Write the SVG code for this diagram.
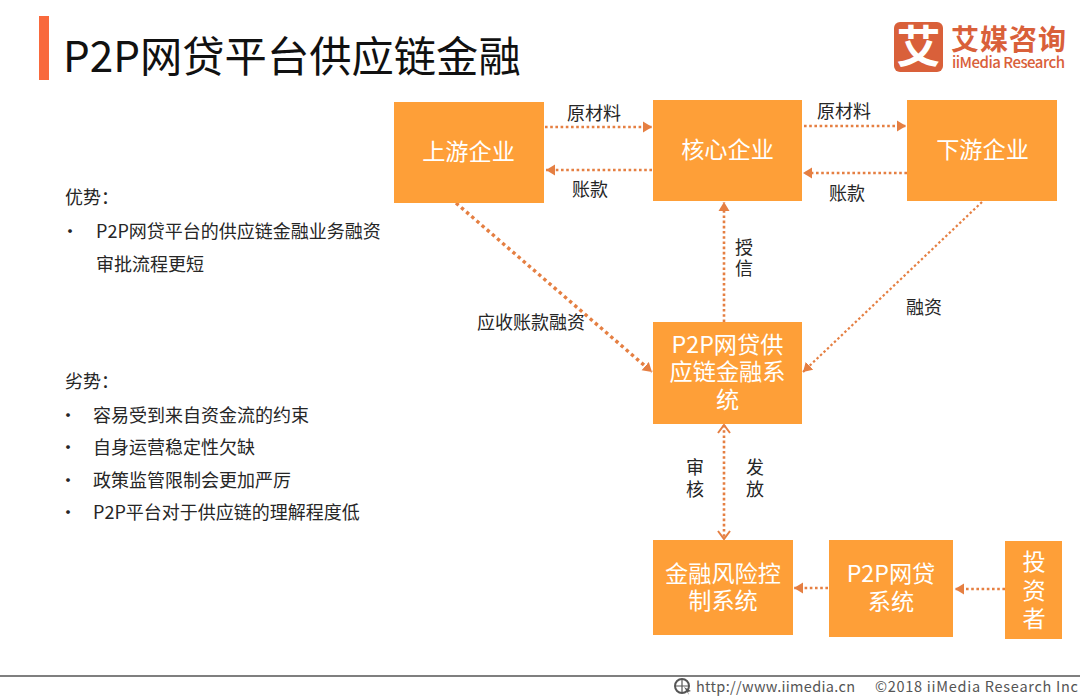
<svg xmlns="http://www.w3.org/2000/svg" width="1080" height="700" viewBox="0 0 1080 700">
<style>
text{font-family:"Noto Sans CJK SC","Noto Sans",sans-serif}
.box{fill:#fe9f38}
.nt{fill:#fff;font-size:23.2px;text-anchor:middle}
.lb{fill:#262626;font-size:18px;text-anchor:middle}
.tx{fill:#262626;font-size:18px}
.c{fill:none;stroke:#e57f42;stroke-width:2.6;stroke-dasharray:2.6 2.6}
.thick{stroke-width:3.4;stroke-dasharray:3.4 3.4}
.thin{stroke-width:2.2;stroke-dasharray:2.4 2.4}
</style>
<defs>
<marker id="a" markerUnits="userSpaceOnUse" markerWidth="10" markerHeight="12" refX="9" refY="6" orient="auto-start-reverse"><path d="M0 .5L9 6L0 11.500z" fill="#e57f42"/></marker>
<marker id="o" markerUnits="userSpaceOnUse" markerWidth="12" markerHeight="14" refX="10" refY="7" orient="auto-start-reverse"><path d="M2 1L10 7L2 13" fill="none" stroke="#e57f42" stroke-width="2"/></marker>
</defs>
<rect width="1080" height="700" fill="#fff"/>
<g id="header">
<rect x="39" y="16" width="10" height="64" fill="#f9693c"/>
<text x="63" y="72" font-size="42.300" fill="#111">P2P网贷平台供应链金融</text>
</g>
<g id="logo">
<rect x="894" y="22" width="49" height="50" rx="6" fill="#d9603a"/>
<text x="918.500" y="63" font-size="44" font-weight="700" fill="#fff" text-anchor="middle">艾</text>
<text x="951" y="50" font-size="28" font-weight="700" fill="#d9603a" textLength="115">艾媒咨询</text>
<text x="952" y="68" font-size="15" font-weight="500" fill="#d9603a" textLength="113">iiMedia Research</text>
</g>
<g id="connectors">
<path class="c" marker-end="url(#a)" d="M545 127H652"/>
<path class="c" marker-end="url(#a)" d="M652 170H546"/>
<path class="c" marker-end="url(#a)" d="M804 126H906"/>
<path class="c" marker-end="url(#a)" d="M907 173H803"/>
<path class="c thick" marker-end="url(#a)" d="M456 203L652 372"/>
<path class="c" marker-end="url(#a)" d="M724 322V202"/>
<path class="c thin" marker-end="url(#a)" d="M982 202L803 372"/>
<path class="c" marker-start="url(#o)" marker-end="url(#o)" d="M724 425V539"/>
<path class="c" marker-end="url(#a)" d="M828 588H794"/>
<path class="c" marker-end="url(#a)" d="M1005 589H955"/>
</g>
<g id="upstream"><rect class="box" x="394" y="102" width="150" height="101"/><text class="nt" x="468.500" y="160">上游企业</text></g>
<g id="core"><rect class="box" x="653" y="100" width="149" height="101"/><text class="nt" x="727.500" y="158">核心企业</text></g>
<g id="downstream"><rect class="box" x="907" y="100" width="150" height="101"/><text class="nt" x="982.500" y="158">下游企业</text></g>
<g id="system"><rect class="box" x="653" y="322" width="149" height="102"/><text class="nt" x="727.500" y="353">P2P网贷供</text><text class="nt" x="727.500" y="380">应链金融系</text><text class="nt" x="727.500" y="408">统</text></g>
<g id="risk"><rect class="box" x="653" y="540" width="140" height="95"/><text class="nt" x="723" y="582">金融风险控</text><text class="nt" x="723" y="609">制系统</text></g>
<g id="p2p"><rect class="box" x="829" y="540" width="124" height="97"/><text class="nt" x="891" y="582">P2P网贷</text><text class="nt" x="891" y="610">系统</text></g>
<g id="investor"><rect class="box" x="1005" y="541" width="57" height="98"/><text class="nt" x="1034" y="570">投</text><text class="nt" x="1034" y="599">资</text><text class="nt" x="1034" y="627">者</text></g>
<g id="labels">
<text class="lb" x="594" y="120">原材料</text>
<text class="lb" x="844" y="118">原材料</text>
<text class="lb" x="590" y="196">账款</text>
<text class="lb" x="847" y="200">账款</text>
<text class="lb" x="531" y="329">应收账款融资</text>
<text class="lb" x="744" y="254">授</text>
<text class="lb" x="744" y="275">信</text>
<text class="lb" x="924" y="314">融资</text>
<text class="lb" x="695" y="474">审</text>
<text class="lb" x="695" y="496">核</text>
<text class="lb" x="755" y="474">发</text>
<text class="lb" x="755" y="496">放</text>
</g>
<g id="advantages">
<text class="tx" x="65" y="204">优势：</text>
<text class="tx" x="61" y="238">•</text>
<text class="tx" x="96" y="238">P2P网贷平台的供应链金融业务融资</text>
<text class="tx" x="96" y="271">审批流程更短</text>
</g>
<g id="disadvantages">
<text class="tx" x="65" y="388">劣势：</text>
<text class="tx" x="59" y="422">•</text><text class="tx" x="93" y="422">容易受到来自资金流的约束</text>
<text class="tx" x="59" y="454">•</text><text class="tx" x="93" y="454">自身运营稳定性欠缺</text>
<text class="tx" x="59" y="487">•</text><text class="tx" x="93" y="487">政策监管限制会更加严厉</text>
<text class="tx" x="59" y="519">•</text><text class="tx" x="93" y="519">P2P平台对于供应链的理解程度低</text>
</g>
<g id="footer">
<rect x="0" y="675" width="1080" height="2" fill="#7f7f7f"/>
<circle cx="682" cy="686" r="7" fill="none" stroke="#555" stroke-width="2"/>
<path d="M675 686H689M682 679V693" stroke="#555" stroke-width="1.200" fill="none"/>
<path d="M684 687L691 691L688 692L689 695Z" fill="#555"/>
<text x="696" y="692" font-size="14.500" fill="#555" textLength="159">http://www.iimedia.cn</text>
<text x="875" y="692" font-size="14.500" fill="#555" textLength="203">©2018  iiMedia Research  Inc</text>
</g>
</svg>
